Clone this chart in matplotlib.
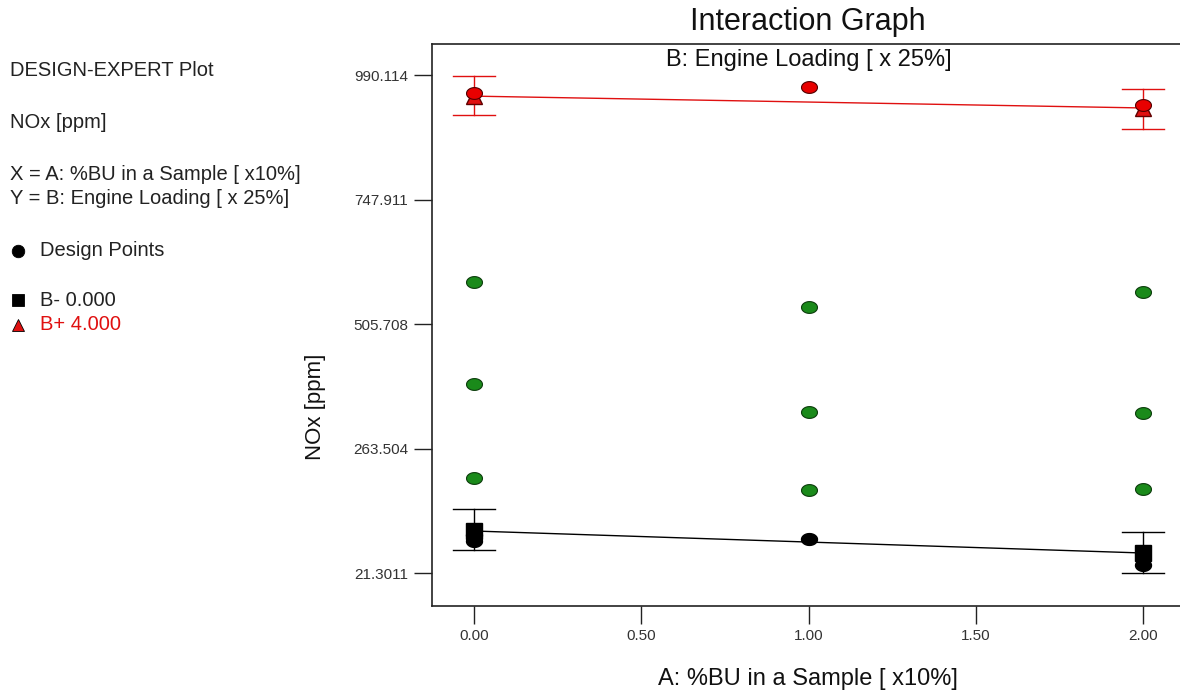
import numpy as np
import matplotlib
matplotlib.use("Agg")
import matplotlib.pyplot as plt

plt.rcParams['font.family'] = ['Liberation Sans', 'DejaVu Sans']

# data
x_levels = [0.0, 1.0, 2.0]
y_ticks = [21.3011, 263.504, 505.708, 747.911, 990.114]
x_ticks = [0.0, 0.5, 1.0, 1.5, 2.0]

# design points (green = intermediate loadings)
green_x = [0, 0, 0, 1, 1, 1, 2, 2, 2]
green_y = [587.4, 389.0, 206.1, 538.8, 334.5, 182.8, 567.9, 332.6, 184.7]
red_pts_x = [0, 1, 2]
red_pts_y = [955.0, 966.8, 931.7]
black_pts_x = [0, 0, 1, 2]
black_pts_y = [95.0, 84.0, 87.4, 36.8]

# predicted lines B- and B+
b_minus = [103.0, 81.5, 60.2]
b_minus_lo = [66.0, None, 21.3]
b_minus_hi = [145.8, None, 101.0]
b_plus = [949.0, 937.5, 926.0]
b_plus_lo = [912.0, None, 885.0]
b_plus_hi = [988.0, None, 963.0]

# ellipse marker
t = np.linspace(0, 2 * np.pi, 40)
ell = list(zip(1.0 * np.cos(t), 0.74 * np.sin(t)))

fig = plt.figure(figsize=(11.8, 6.94), dpi=100)
ax = fig.add_axes([432 / 1180, 1 - 605.7 / 694, (1185 - 432) / 1180, (605.7 - 43.5) / 694])

ax.plot(x_levels, b_plus, color="#e01010", lw=1, zorder=2)
ax.plot(x_levels, b_minus, color="black", lw=1, zorder=2)

for xs, lo, hi, c in [(x_levels, b_plus_lo, b_plus_hi, "#e01010"),
                      (x_levels, b_minus_lo, b_minus_hi, "black")]:
    for xi, l, h in zip(xs, lo, hi):
        if l is None:
            continue
        ax.plot([xi, xi], [l, h], color=c, lw=1, zorder=2)
        ax.plot([xi - 0.063, xi + 0.063], [l, l], color=c, lw=1, zorder=2)
        ax.plot([xi - 0.063, xi + 0.063], [h, h], color=c, lw=1, zorder=2)

# square / triangle at the two ends
ax.plot([0, 2], [b_minus[0], b_minus[2]], ls="none", marker="s", ms=11,
        color="black", zorder=3)
ax.plot([0, 2], [b_plus[0], b_plus[2]], ls="none", marker="^", ms=11,
        color="#e01010", mec="#600000", zorder=3)

ax.plot(green_x, green_y, ls="none", marker=ell, ms=11.5, color="#1a8a1a",
        mec="#0c3c0c", mew=0.8, zorder=4)
ax.plot(red_pts_x, red_pts_y, ls="none", marker=ell, ms=11.5, color="#e80000",
        mec="#500000", mew=0.8, zorder=4)
ax.plot(black_pts_x, black_pts_y, ls="none", marker=ell, ms=11.5, color="black",
        zorder=4)

ax.set_xlim(-0.126, 2.126)
ax.set_ylim(-42.3, 1051.4)
ax.set_xticks(x_ticks)
ax.set_xticklabels(["%.2f" % v for v in x_ticks])
ax.set_yticks(y_ticks)
ax.set_yticklabels(["21.3011", "263.504", "505.708", "747.911", "990.114"])
ax.tick_params(direction="out", length=13, width=1, labelsize=11,
               color="#222222", labelcolor="#333333", pad=4)
for s in ax.spines.values():
    s.set_color("#222222")
    s.set_linewidth(1.2)

ax.text(1.0, 1019, "B: Engine Loading [ x 25%]", ha="center", va="center",
        fontsize=17, color="#111111")
fig.text(808 / 1180, 1 - 22 / 694, "Interaction Graph", ha="center", va="center",
         fontsize=22, color="#111111")
fig.text(808 / 1180, 1 - 679 / 694, "A: %BU in a Sample [ x10%]", ha="center",
         va="center", fontsize=17, color="#111111")
fig.text(316 / 1180, 1 - 407 / 694, "NOx [ppm]", ha="center", va="center",
         rotation=90, fontsize=16, color="#111111")

# left side info block
left = [("DESIGN-EXPERT Plot", 70, "#222222"),
        ("NOx [ppm]", 123, "#222222"),
        ("X = A: %BU in a Sample [ x10%]", 174, "#222222"),
        ("Y = B: Engine Loading [ x 25%]", 199, "#222222")]
for txt, py, c in left:
    fig.text(10 / 1180, 1 - py / 694, txt, ha="left", va="center", fontsize=14.5, color=c)

legend = [("Design Points", 251, "#222222", "o", "black"),
          ("B- 0.000", 300, "#222222", "s", "black"),
          ("B+ 4.000", 325, "#e01010", "^", "#e01010")]
for txt, py, c, m, mc in legend:
    fig.text(40 / 1180, 1 - py / 694, txt, ha="left", va="center", fontsize=14.5, color=c)
    fig.lines.append(matplotlib.lines.Line2D([18 / 1180], [1 - py / 694], marker=m,
                                             ms=9, color=mc, mec="black" if m == "^" else mc,
                                             mew=0.6, transform=fig.transFigure))

fig.savefig("out.png", dpi=100)
